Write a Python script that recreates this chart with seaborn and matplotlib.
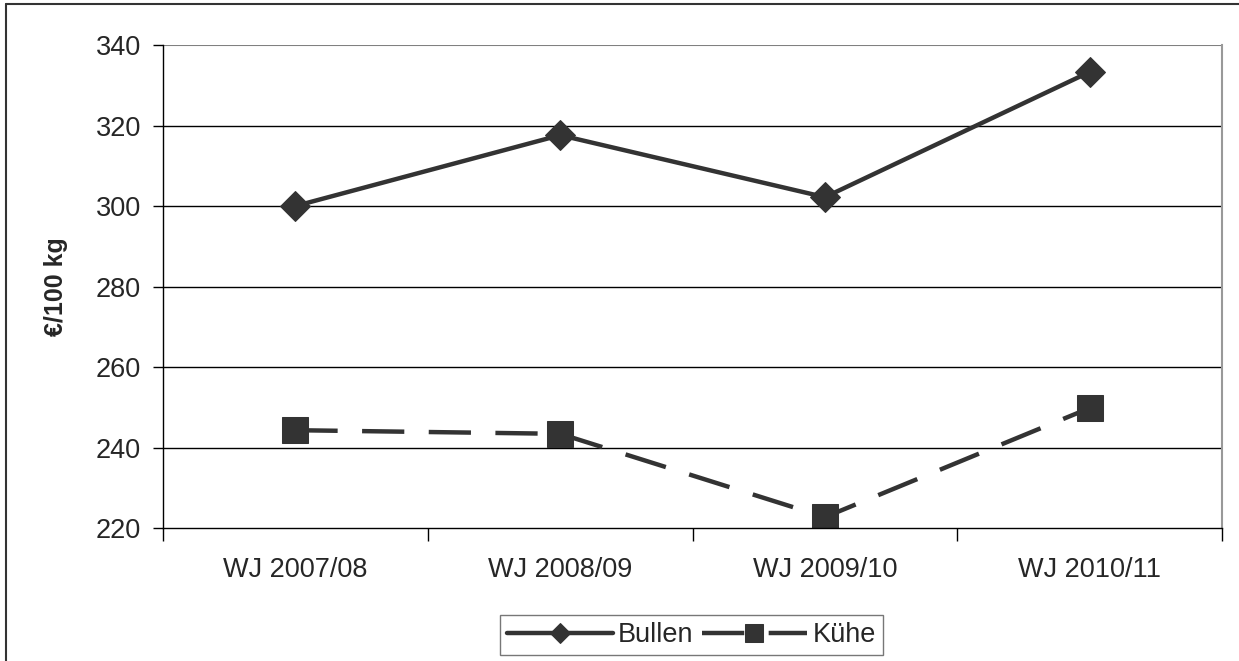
import pandas as pd
import numpy as np
import matplotlib.pyplot as plt
import seaborn as sns
from matplotlib.lines import Line2D

sns.set_style('white')
plt.rcParams['font.family'] = ['Liberation Sans', 'DejaVu Sans']

jahre = ['WJ 2007/08', 'WJ 2008/09', 'WJ 2009/10', 'WJ 2010/11']
bullen = [300.0, 317.6, 302.2, 333.3]
kuehe = [244.3, 243.4, 222.7, 249.8]
y_ticks = [220, 240, 260, 280, 300, 320, 340]

df = pd.DataFrame({'jahr': list(range(len(jahre))) * 2,
                   'preis': bullen + kuehe,
                   'serie': ['Bullen'] * 4 + ['Kühe'] * 4})

fig = plt.figure(figsize=(12.39, 6.61), dpi=100)
ax = fig.add_axes([0.1316, 0.2012, 0.8547, 0.7307])

farbe = '#333333'
fs = 19.5
sns.lineplot(data=df[df['serie'] == 'Bullen'], x='jahr', y='preis', ax=ax,
             color=farbe, linewidth=3.2, marker='D', markersize=15,
             markeredgecolor=farbe, label='Bullen')
sns.lineplot(data=df[df['serie'] == 'Kühe'], x='jahr', y='preis', ax=ax,
             color=farbe, linewidth=3.2, marker='s', markersize=19,
             markeredgecolor=farbe, label='Kühe')
ax.lines[-1].set_dashes((9.5, 5.5))

ax.set_xlim(-0.5, 3.5)
ax.set_ylim(220, 340)
ax.set_yticks(y_ticks)
ax.tick_params(axis='y', labelsize=fs, length=7, width=1, color='black', direction='out', left=True, pad=9)
ax.set_xticks(range(4))
ax.set_xticklabels(jahre, fontsize=fs)
ax.tick_params(axis='x', which='major', length=0, pad=21)
ax.set_xticks(np.arange(-0.5, 4, 1), minor=True)
ax.tick_params(axis='x', which='minor', length=9, width=1, color='black', direction='out', bottom=True)

for y in y_ticks[1:-1]:
    ax.axhline(y, color='black', linewidth=1, zorder=0)
ax.axhline(340, color='#808080', linewidth=1.5, zorder=0)

for s in ['left', 'bottom']:
    ax.spines[s].set_color('black')
    ax.spines[s].set_linewidth(1)
ax.spines['top'].set_visible(False)
ax.spines['right'].set_color('#999999')
ax.spines['right'].set_linewidth(1.5)

ax.set_xlabel('')
ax.set_ylabel('€/100 kg', fontsize=18, fontweight='bold', labelpad=20)

leg = ax.legend(loc='center', bbox_to_anchor=(0.499, -0.222), ncol=2, fontsize=fs,
                frameon=True, fancybox=False, edgecolor='#555555', handlelength=3.9,
                columnspacing=0.3, handletextpad=0.2, borderpad=0.25, borderaxespad=0)
leg.get_frame().set_linewidth(1)
for h, ms in zip(leg.legend_handles, [10, 13]):
    h.set_markersize(ms)

# outer chart border
fig.add_artist(Line2D([0.005, 1], [0.994, 0.994], color='#333333', linewidth=1.5, transform=fig.transFigure))
fig.add_artist(Line2D([0.005, 0.005], [0, 0.994], color='#333333', linewidth=1.5, transform=fig.transFigure))

fig.savefig('out.png', dpi=100)
